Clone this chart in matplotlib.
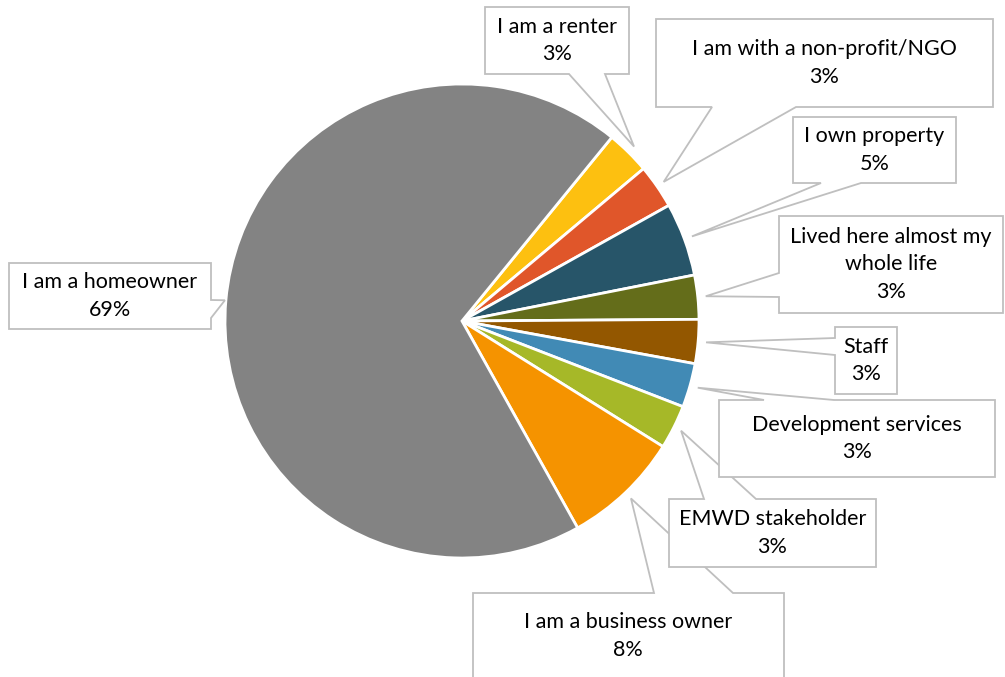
import matplotlib.pyplot as plt
from matplotlib.patches import Polygon
import numpy as np

plt.rcParams['font.family'] = ['Lato', 'DejaVu Sans']

# Data (clockwise from the top-right)
categories = ['I am a renter', 'I am with a non-profit/NGO', 'I own property',
              'Lived here almost my\nwhole life', 'Staff', 'Development services',
              'EMWD stakeholder', 'I am a business owner', 'I am a homeowner']
shares = [3, 3, 5, 3, 3, 3, 3, 8, 69]
colors = ['#FDC010', '#E0562A', '#275569', '#646D1A', '#935700',
          '#418AB5', '#A6B828', '#F59300', '#838383']

W, H = 1005, 677
CX, CY, R = 462, 321, 237
START = 50.8

# callout boxes in pixel coords: (x0, y0, x1, y1), side of pointer, pointer base, tip gap, text centre
callouts = [
    ((485, 7, 629, 74), 'bottom', (569, 605), 8, None),
    ((656, 19, 993, 107), 'bottom', (712, 796), 8, None),
    ((793, 117, 956, 183), 'bottom', (821, 861), 8, None),
    ((779, 216, 1003, 313), 'left', (273, 297), 8, None),
    ((835, 327, 897, 394), 'left', (338, 355), 8, None),
    ((719, 400, 995, 477), 'top', (764, 834), 8, None),
    ((669, 499, 876, 567), 'top', (704, 756), 8, None),
    ((473, 593, 784, 700), 'top', (654, 733), 8, (628, 636)),
    ((9, 263, 211, 329), 'right', (300, 318), 1, None),
]


def fy(y):
    return H - y


fig = plt.figure(figsize=(W / 100, H / 100), dpi=100)
ax = fig.add_axes([0, 0, 1, 1])

wedges, _ = ax.pie(shares, colors=colors, startangle=START, counterclock=False,
                   center=(CX, fy(CY)), radius=R,
                   wedgeprops=dict(edgecolor='white', linewidth=2))

# mid angles of each slice, in degrees (counterclockwise from +x)
bounds = START - np.cumsum([0] + shares) / sum(shares) * 360
mids = (bounds[:-1] + bounds[1:]) / 2

order = [8, 7, 6, 5, 4, 3, 2, 1, 0]
for k, i in enumerate(order):
    (x0, y0, x1, y1), side, (b1, b2), gap, tc = callouts[i]
    a = np.radians(mids[i])
    tip = (CX + (R + gap) * np.cos(a), CY - (R + gap) * np.sin(a))
    if side == 'top':
        pts = [(x0, y0), (b1, y0), tip, (b2, y0), (x1, y0), (x1, y1), (x0, y1)]
    elif side == 'bottom':
        pts = [(x0, y0), (x1, y0), (x1, y1), (b2, y1), tip, (b1, y1), (x0, y1)]
    elif side == 'right':
        pts = [(x0, y0), (x1, y0), (x1, b1), tip, (x1, b2), (x1, y1), (x0, y1)]
    else:
        pts = [(x0, y0), (x1, y0), (x1, y1), (x0, y1), (x0, b2), tip, (x0, b1)]
    pts = [(px, fy(py)) for px, py in pts]
    ax.add_patch(Polygon(pts, closed=True, facecolor='white', edgecolor='#BFBFBF',
                         linewidth=1.3, zorder=3 + k))
    if tc is None:
        tc = ((x0 + x1) / 2, (y0 + y1) / 2)
    ax.text(tc[0], fy(tc[1]), f'{categories[i]}\n{shares[i]}%', ha='center', va='center',
            fontsize=15.5, color='#000000', linespacing=1.45, zorder=3 + k)

ax.set_xlim(0, W)
ax.set_ylim(0, H)
ax.set_aspect('auto')
ax.axis('off')

fig.savefig('out.png', dpi=100, facecolor='white')
